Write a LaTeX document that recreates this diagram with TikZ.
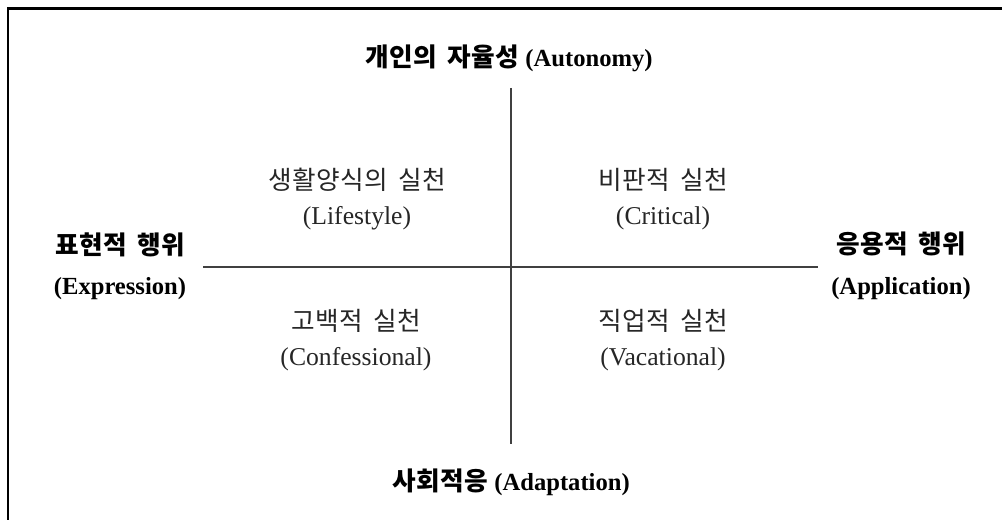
\documentclass[tikz,border=0pt]{standalone}
\usepackage{fontspec}
\setmainfont{Liberation Serif}
\newfontfamily\kr[LetterSpace=2,WordSpace=1.6]{Noto Sans CJK KR}
\tikzset{
  axislabel/.style={font=\fontsize{7}{11.5}\selectfont\bfseries, align=center, inner sep=0pt},
  quadlabel/.style={font=\fontsize{7.3}{9.8}\selectfont, align=center, inner sep=0pt, text=black!85},
  axis/.style={line width=0.45pt, black!75}
}
\begin{document}
\begin{tikzpicture}
        \clip (0,0) rectangle (10.02,5.20);
        % frame, only top and left edges show
        \draw[line width=0.85pt] (0.08,-1) -- (0.08,5.11) -- (11,5.11);
        % axes
        \coordinate (up) at (5.11,4.32);
        \coordinate (down) at (5.11,0.76);
        \coordinate (left) at (2.03,2.53);
        \coordinate (right) at (8.18,2.53);
        \draw[axis] (up) -- (down);
        \draw[axis] (left) -- (right);
        % axis ends
        \node[axislabel] (autonomy) at (5.09,4.62) {{\kr\fontsize{7.3}{11.5}\selectfont 개인의 자율성} (Autonomy)};
        \node[axislabel] (adaptation) at (5.11,0.38) {{\kr\fontsize{7.3}{11.5}\selectfont 사회적응} (Adaptation)};
        \node[axislabel] (expression) at (1.20,2.54) {{\kr\fontsize{7.3}{11.5}\selectfont 표현적 행위}\\(Expression)};
        \node[axislabel] (application) at (9.01,2.54) {{\kr\fontsize{7.3}{11.5}\selectfont 응용적 행위}\\(Application)};
        % quadrants
        \node[quadlabel] (lifestyle) at (3.57,3.21) {{\kr\fontsize{7.3}{9.8}\selectfont 생활양식의 실천}\\(Lifestyle)};
        \node[quadlabel] (critical) at (6.63,3.21) {{\kr\fontsize{7.3}{9.8}\selectfont 비판적 실천}\\(Critical)};
        \node[quadlabel] (confessional) at (3.56,1.80) {{\kr\fontsize{7.3}{9.8}\selectfont 고백적 실천}\\(Confessional)};
        \node[quadlabel] (vocational) at (6.63,1.80) {{\kr\fontsize{7.3}{9.8}\selectfont 직업적 실천}\\(Vacational)};
\end{tikzpicture}
\end{document}
